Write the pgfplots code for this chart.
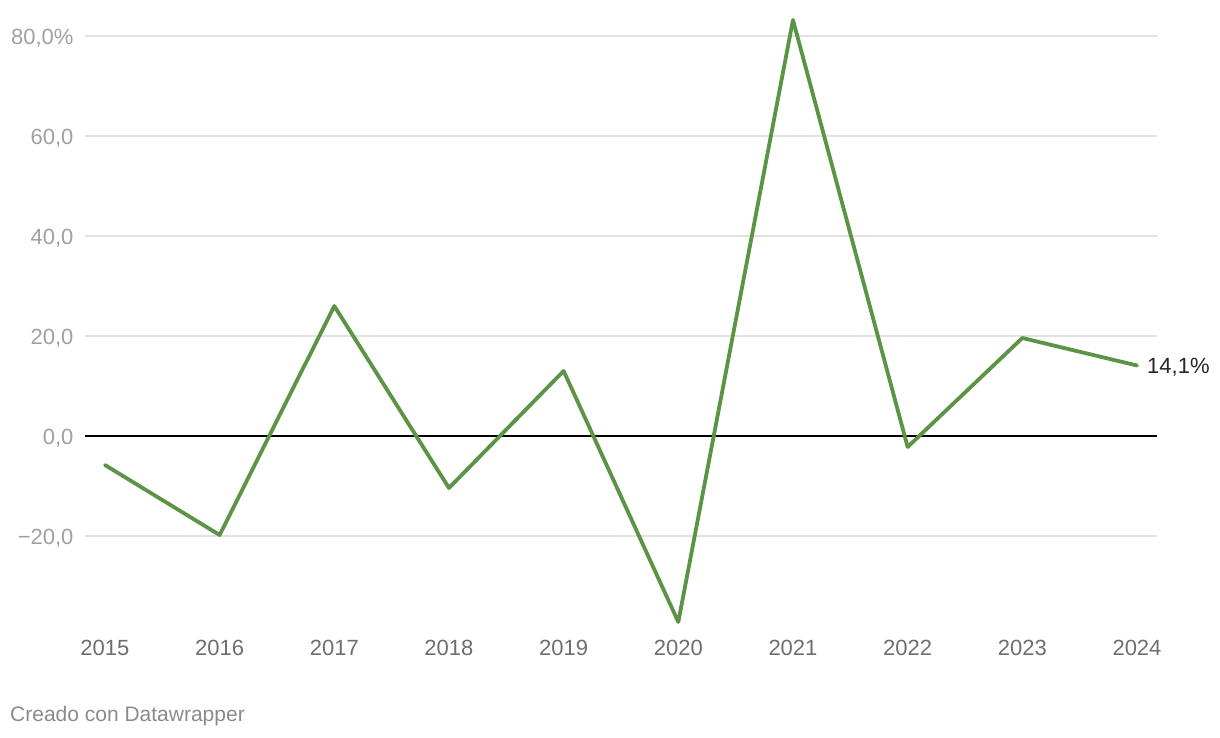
\documentclass[border=0pt]{standalone}
\usepackage{pgfplots}
\pgfplotsset{compat=1.18}
\usepackage{fontspec}
\setmainfont{Liberation Sans}
\definecolor{linegreen}{HTML}{5A9444}
\definecolor{gridgray}{HTML}{E2E2E2}
\definecolor{ylab}{HTML}{A0A0A0}
\definecolor{xlab}{HTML}{6E6E6E}
\definecolor{foot}{HTML}{8A8A8A}
\begin{document}
\begin{tikzpicture}
\path[use as bounding box] (0pt,0pt) rectangle (1220pt,738pt);
\begin{axis}[
  at={(85pt,116pt)}, anchor=south west,
  scale only axis, width=1072pt, height=602pt,
  xmin=2014.826, xmax=2024.174,
  ymin=-37.2, ymax=83.2,
  axis line style={draw=none},
  tick style={draw=none},
  ymajorgrids, grid style={gridgray, line width=1.2pt},
  major tick length=0pt,
  xtick={2015,2016,2017,2018,2019,2020,2021,2022,2023,2024},
  xticklabels={2015,2016,2017,2018,2019,2020,2021,2022,2023,2024},
  ytick={-20,0,20,40,60,80},
  yticklabels={−20{,}0,0{,}0,20{,}0,40{,}0,60{,}0,80{,}0\%},
  ticklabel style={font=\fontsize{22}{26}\selectfont},
  xticklabel style={xlab, anchor=north, yshift=-15pt},
  yticklabel style={ylab, anchor=east, xshift=-8pt, yshift=-2.5pt},
  /pgf/number format/assume math mode=true,
  clip=false,
]
\draw[black, line width=1.5pt] (axis cs:2014.826,0) -- (axis cs:2024.174,0);
\addplot[linegreen, line width=3.8pt, line join=round, line cap=round, mark=none] coordinates {
(2015,-5.8) (2016,-19.8) (2017,26.0) (2018,-10.4) (2019,13.0)
(2020,-37.2) (2021,83.2) (2022,-2.2) (2023,19.6) (2024,14.1)
};
\node[anchor=west, text=black!85, font=\fontsize{22}{26}\selectfont, inner sep=0pt] at (axis cs:2024,14.1) [xshift=10pt, yshift=-2pt] {14,1\%};
\end{axis}
\node[anchor=west, text=foot, font=\fontsize{21}{25}\selectfont, inner sep=0pt] at (10pt,22pt) {Creado con Datawrapper};
\end{tikzpicture}
\end{document}
